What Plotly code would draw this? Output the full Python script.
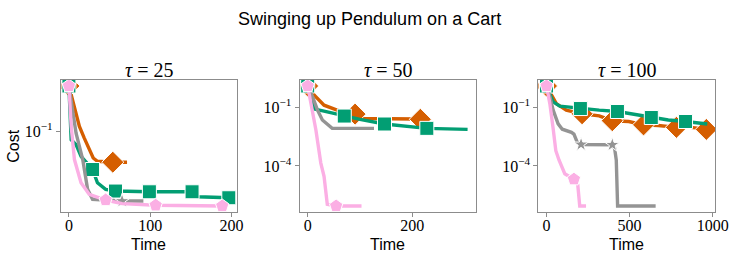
import plotly.graph_objects as go
import math

W, H = 748, 258

# ---------------- data ----------------
panel_titles = ["<i>τ</i> = 25", "<i>τ</i> = 50", "<i>τ</i> = 100"]
series_names = ["orange", "green", "gray", "pink"]

# tau = 25
p1_orange_t = [0, 8, 12.9, 18.9, 25, 29.9, 35.1, 54, 71.5]
p1_orange_c = [1.2, 0.325, 0.131, 0.0695, 0.037, 0.0234, 0.0196, 0.0186, 0.0186]
p1_orange_m = [0, 7]
p1_green_t = [0, 2.8, 8.8, 14.9, 29.1, 35.1, 45.2, 57.3, 99, 151.5, 158.3, 196.7]
p1_green_c = [1.2, 0.0637, 0.0485, 0.0257, 0.0125, 0.00604, 0.00422, 0.00385, 0.0037, 0.0037, 0.00282, 0.00267]
p1_green_m = [0, 4, 7, 8, 9, 11]
p1_gray_t = [0, 5.6, 8.8, 17, 23, 29.1, 65.4, 91.6]
p1_gray_c = [1.2, 0.27, 0.0912, 0.0215, 0.00422, 0.00245, 0.00223, 0.00223]
p1_gray_m = [0, 6]
p1_pink_t = [0, 2.8, 6.8, 14.9, 25, 45.2, 65.4, 106.7, 188.6]
p1_pink_c = [1.2, 0.131, 0.0215, 0.00604, 0.00321, 0.00236, 0.00193, 0.00177, 0.0017]
p1_pink_m = [0, 5, 7, 8]

# tau = 50
p2_orange_t = [0, 12.6, 31.3, 56.2, 90.7, 106.3, 206, 215.6, 222]
p2_orange_c = [1.2, 0.404, 0.126, 0.0705, 0.0442, 0.0265, 0.0247, 0.024, 0.024]
p2_orange_m = [0, 4, 7]
p2_green_t = [0, 9.4, 13.8, 37.5, 70, 100, 147, 228, 306]
p2_green_c = [1.2, 0.152, 0.0792, 0.0578, 0.0351, 0.0236, 0.0138, 0.00828, 0.00737]
p2_green_m = [0, 4, 6, 7]
p2_gray_t = [0, 9.4, 18.8, 28.1, 46.9, 126.9]
p2_gray_c = [1.2, 0.332, 0.0705, 0.022, 0.00828, 0.00828]
p2_gray_m = [0]
p2_pink_t = [0, 6.3, 15.7, 25.1, 31.3, 37.5, 54.4, 103]
p2_pink_c = [1.2, 0.152, 0.00687, 1.4e-4, 2.98e-5, 1.1e-6, 9.06e-7, 9.06e-7]
p2_pink_m = [0, 6]

# tau = 100
p3_orange_t = [0, 59, 119, 214, 317, 396, 495, 584, 673, 782, 871, 962]
p3_orange_c = [1.2, 0.152, 0.0705, 0.0458, 0.036, 0.0203, 0.0185, 0.01245, 0.0115, 0.00929, 0.0093, 0.00728]
p3_orange_m = [0, 3, 5, 7, 9, 11]
p3_green_t = [0, 40, 80, 204, 317, 427, 515, 631, 733, 837, 911, 968]
p3_green_c = [1.2, 0.185, 0.112, 0.0849, 0.0705, 0.0599, 0.0442, 0.0295, 0.022, 0.0185, 0.0155, 0.0138]
p3_green_m = [0, 3, 5, 7, 9]
p3_gray_t = [0, 20, 40, 70, 95, 150, 165, 185, 208, 396, 410, 420, 428, 657]
p3_gray_c = [1.2, 0.35, 0.07, 0.014, 0.0075, 0.0052, 0.0042, 0.0016, 0.00125, 0.0012, 0.0008, 0.0002, 9e-7, 9e-7]
p3_gray_m = [0, 8, 9]
p3_pink_t = [0, 20, 40, 56, 75, 110, 165, 188, 200, 238]
p3_pink_c = [1.2, 0.152, 0.008, 6e-4, 2e-4, 4e-5, 2.1e-5, 1.1e-5, 9e-7, 9e-7]
p3_pink_m = [0, 6]

x_tickvals = [[0, 100, 200], [0, 200], [0, 500, 1000]]
y_tickvals = [[0.1], [0.1, 1e-4], [0.1, 1e-4]]
y_ticktext = [["10<sup>−1</sup>"], ["10<sup>−1</sup>", "10<sup>−4</sup>"], ["10<sup>−1</sup>", "10<sup>−4</sup>"]]

panels = [
    [(p1_orange_t, p1_orange_c, p1_orange_m), (p1_green_t, p1_green_c, p1_green_m),
     (p1_gray_t, p1_gray_c, p1_gray_m), (p1_pink_t, p1_pink_c, p1_pink_m)],
    [(p2_orange_t, p2_orange_c, p2_orange_m), (p2_green_t, p2_green_c, p2_green_m),
     (p2_gray_t, p2_gray_c, p2_gray_m), (p2_pink_t, p2_pink_c, p2_pink_m)],
    [(p3_orange_t, p3_orange_c, p3_orange_m), (p3_green_t, p3_green_c, p3_green_m),
     (p3_gray_t, p3_gray_c, p3_gray_m), (p3_pink_t, p3_pink_c, p3_pink_m)],
]

# ---------------- style ----------------
colors = {"orange": "#d55e00", "green": "#029e73", "gray": "#949494", "pink": "#fbafe4"}
symbols = {"orange": "diamond", "green": "square", "gray": "star", "pink": "pentagon"}
msizes = {"orange": 17, "green": 14, "gray": 11, "pink": 14}

ax_px = [(62, 241), (305, 484), (548, 728)]
top_px, bot_px = 80, 212
SERIF = "Liberation Serif"
SANS = "Liberation Sans"


def px_x(p):
    return p / W


def px_y(p):
    return 1 - p / H


def autorange_lin(vals):
    lo, hi = min(vals), max(vals)
    m = 0.05 * (hi - lo)
    return [lo - m, hi + m]


def autorange_log(vals):
    lo, hi = math.log10(min(vals)), math.log10(max(vals))
    m = 0.05 * (hi - lo)
    return [lo - m, hi + m]


fig = go.Figure()
annotations = []
for i, series in enumerate(panels):
    xa = "x" if i == 0 else f"x{i+1}"
    ya = "y" if i == 0 else f"y{i+1}"
    all_t, all_c = [], []
    for name, (t, c, m) in zip(series_names, series):
        all_t += t
        all_c += c
        sizes = [msizes[name] if k in m else 0 for k in range(len(t))]
        lws = [1 if k in m else 0 for k in range(len(t))]
        fig.add_trace(go.Scatter(
            x=t, y=c, mode="lines+markers", xaxis=xa, yaxis=ya, showlegend=False,
            line=dict(color=colors[name], width=3.4),
            marker=dict(symbol=symbols[name], size=sizes, color=colors[name], opacity=1,
                        line=dict(color="white", width=lws)),
            hoverinfo="skip"))
    x0, x1 = ax_px[i]
    axis_common = dict(showgrid=False, zeroline=False, showline=True, mirror=True,
                       linecolor="#8c8c8c", linewidth=1.2, ticks="outside", ticklen=4,
                       tickwidth=1, tickcolor="#8c8c8c",
                       tickfont=dict(family=SERIF, size=16, color="black"))
    fig.update_layout(**{
        ("xaxis" if i == 0 else f"xaxis{i+1}"): dict(
            domain=[px_x(x0), px_x(x1)], range=autorange_lin(all_t), anchor=ya,
            tickvals=x_tickvals[i], ticktext=[str(v) for v in x_tickvals[i]],
            ticklabelstandoff=-5, **axis_common),
        ("yaxis" if i == 0 else f"yaxis{i+1}"): dict(
            domain=[px_y(bot_px), px_y(top_px)], type="log", range=autorange_log(all_c),
            anchor=xa, tickvals=y_tickvals[i], ticktext=y_ticktext[i], **axis_common),
    })
    cx = (x0 + x1) / 2
    annotations.append(dict(text=panel_titles[i], x=px_x(cx), y=px_y(70), xref="paper", yref="paper",
                            showarrow=False, xanchor="center", yanchor="middle",
                            font=dict(family=SERIF, size=20, color="black")))
    annotations.append(dict(text="Time", x=px_x(cx), y=px_y(244), xref="paper", yref="paper",
                            showarrow=False, xanchor="center", yanchor="middle",
                            font=dict(family=SANS, size=16, color="black")))

annotations.append(dict(text="Cost", x=px_x(13), y=px_y(146), xref="paper", yref="paper",
                        showarrow=False, textangle=-90, xanchor="center", yanchor="middle",
                        font=dict(family=SANS, size=16, color="black")))
annotations.append(dict(text="Swinging up Pendulum on a Cart", x=px_x(376), y=px_y(19),
                        xref="paper", yref="paper", showarrow=False, xanchor="center",
                        yanchor="middle", font=dict(family=SANS, size=18, color="black")))

fig.update_layout(width=W, height=H, margin=dict(l=0, r=0, t=0, b=0),
                  paper_bgcolor="white", plot_bgcolor="white", annotations=annotations)
fig.write_html("out.html", config={"displayModeBar": False},
               post_script="document.body.style.margin='0px';document.body.style.overflow='hidden';")
